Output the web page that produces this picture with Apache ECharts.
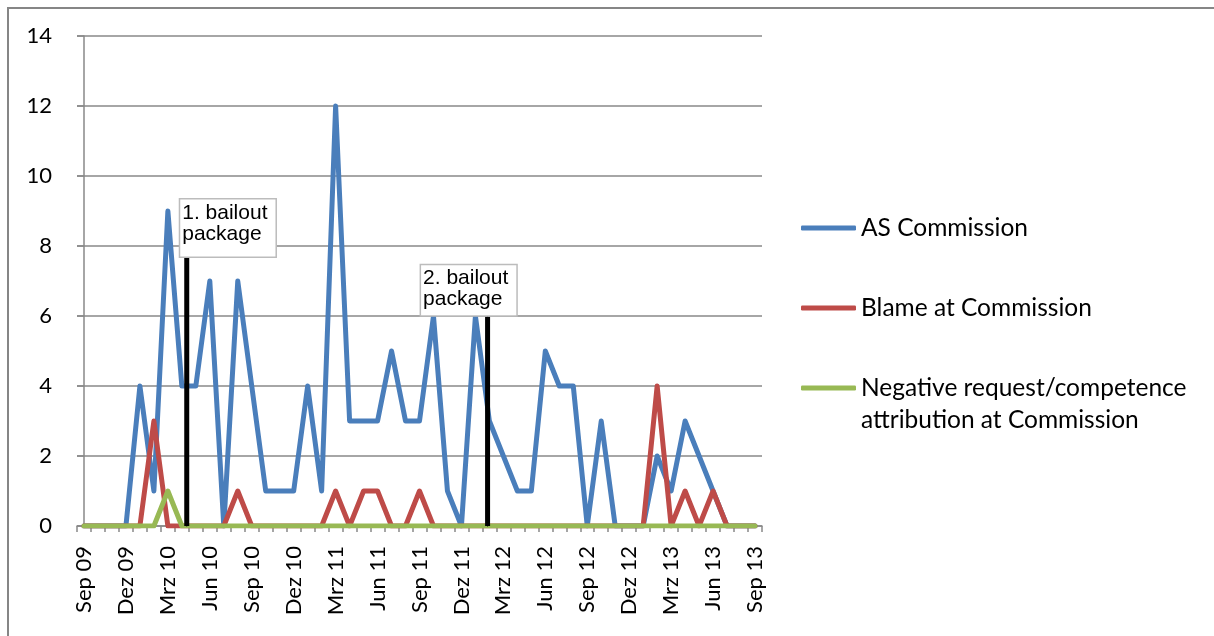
<!DOCTYPE html>
<html>
<head>
<meta charset="utf-8">
<script src="https://cdn.jsdelivr.net/npm/echarts@6/dist/echarts.min.js"></script>
<style>
  html, body { margin: 0; padding: 0; background: #fff; }
  #chart { width: 1214px; height: 636px; }
</style>
</head>
<body>
<div id="chart"></div>
<script>
// Monthly categories, September 2009 to September 2013
const months = [
  'Sep 09', 'Okt 09', 'Nov 09', 'Dez 09', 'Jan 10', 'Feb 10', 'Mrz 10', 'Apr 10', 'Mai 10', 'Jun 10',
  'Jul 10', 'Aug 10', 'Sep 10', 'Okt 10', 'Nov 10', 'Dez 10', 'Jan 11', 'Feb 11', 'Mrz 11', 'Apr 11',
  'Mai 11', 'Jun 11', 'Jul 11', 'Aug 11', 'Sep 11', 'Okt 11', 'Nov 11', 'Dez 11', 'Jan 12', 'Feb 12',
  'Mrz 12', 'Apr 12', 'Mai 12', 'Jun 12', 'Jul 12', 'Aug 12', 'Sep 12', 'Okt 12', 'Nov 12', 'Dez 12',
  'Jan 13', 'Feb 13', 'Mrz 13', 'Apr 13', 'Mai 13', 'Jun 13', 'Jul 13', 'Aug 13', 'Sep 13'
];

const asCommission = [
  0, 0, 0, 0, 4, 1, 9, 4, 4, 7,
  0, 7, 4, 1, 1, 1, 4, 1, 12, 3,
  3, 3, 5, 3, 3, 6, 1, 0, 6, 3,
  2, 1, 1, 5, 4, 4, 0, 3, 0, 0,
  0, 2, 1, 3, 2, 1, 0, 0, 0
];

const blameCommission = [
  0, 0, 0, 0, 0, 3, 0, 0, 0, 0,
  0, 1, 0, 0, 0, 0, 0, 0, 1, 0,
  1, 1, 0, 0, 1, 0, 0, 0, 0, 0,
  0, 0, 0, 0, 0, 0, 0, 0, 0, 0,
  0, 4, 0, 1, 0, 1, 0, 0, 0
];

const negativeAttribution = [
  0, 0, 0, 0, 0, 0, 1, 0, 0, 0,
  0, 0, 0, 0, 0, 0, 0, 0, 0, 0,
  0, 0, 0, 0, 0, 0, 0, 0, 0, 0,
  0, 0, 0, 0, 0, 0, 0, 0, 0, 0,
  0, 0, 0, 0, 0, 0, 0, 0, 0
];

const seriesNames = [
  'AS Commission',
  'Blame at Commission',
  'Negative request/competence attribution at Commission'
];

// Bailout events: position in months from Sep 09, and the height the marker line reaches
const bailoutLabels = ['1. bailout\npackage', '2. bailout\npackage'];
const bailoutMonth = [7.35, 28.87];
const bailoutTop = [7.66, 5.98];

// Callout box placement relative to the top of each marker line
const calloutLayout = [
  { position: [-6, -58], padding: [3, 8, 12, 2] },
  { position: [-66, -51], padding: [3, 8, 5, 2] }
];

const colors = ['#4a7ebb', '#be4b48', '#98b954'];
const gridColor = '#898989';
const uiFont = 'Lato';

const chart = echarts.init(document.getElementById('chart'), null, { renderer: 'canvas' });

const dataSeries = [asCommission, blameCommission, negativeAttribution].map((values, k) => ({
  name: seriesNames[k],
  type: 'line',
  data: values,
  symbol: 'none',
  z: 3,
  lineStyle: { color: colors[k], width: 5, join: 'round', cap: 'round' },
  itemStyle: { color: colors[k] }
}));

const bailoutSeries = bailoutLabels.map((label, k) => ({
  name: label.replace('\n', ' '),
  type: 'line',
  xAxisIndex: 1,
  z: 4,
  silent: true,
  symbol: 'circle',
  symbolSize: 1,
  showSymbol: true,
  lineStyle: { color: '#000', width: 5 },
  itemStyle: { color: '#000' },
  data: [
    [bailoutMonth[k], 0],
    {
      value: [bailoutMonth[k], bailoutTop[k]],
      label: {
        show: true,
        formatter: label,
        position: calloutLayout[k].position,
        padding: calloutLayout[k].padding,
        backgroundColor: '#fff',
        borderColor: '#bcbcbc',
        borderWidth: 1.5,
        fontFamily: 'Liberation Sans',
        fontSize: 21,
        lineHeight: 21,
        color: '#000',
        align: 'left',
        verticalAlign: 'top'
      }
    }
  ]
}));

const legendBase = {
  left: 801,
  orient: 'vertical',
  padding: 0,
  icon: 'roundRect',
  itemWidth: 55,
  itemHeight: 5,
  itemGap: 0,
  selectedMode: false,
  textStyle: { fontFamily: uiFont, fontSize: 24.5, lineHeight: 32, color: '#000' }
};

const option = {
  animation: false,
  backgroundColor: '#fff',
  grid: { left: 77, top: 36, right: 452, bottom: 110, containLabel: false },
  xAxis: [
    {
      type: 'category',
      data: months,
      boundaryGap: true,
      axisLine: { lineStyle: { color: gridColor, width: 1.5 } },
      axisTick: { show: true, interval: 0, length: 6, lineStyle: { color: gridColor, width: 1.5 } },
      axisLabel: {
        interval: 2,
        rotate: 90,
        margin: 20,
        fontFamily: uiFont,
        fontSize: 22,
        color: '#000'
      },
      splitLine: { show: false }
    },
    {
      type: 'value',
      show: false,
      min: -0.5,
      max: months.length - 0.5
    }
  ],
  yAxis: {
    type: 'value',
    min: 0,
    max: 14,
    interval: 2,
    axisLine: { show: true, lineStyle: { color: gridColor, width: 1.5 } },
    axisTick: { show: true, length: 7, lineStyle: { color: gridColor, width: 1.5 } },
    axisLabel: { margin: 25, fontFamily: uiFont, fontSize: 22, color: '#000' },
    splitLine: { show: true, lineStyle: { color: gridColor, width: 1.5 } }
  },
  legend: [
    Object.assign({}, legendBase, { data: [seriesNames[0]], top: 212 }),
    Object.assign({}, legendBase, { data: [seriesNames[1]], top: 292 }),
    Object.assign({}, legendBase, {
      data: [seriesNames[2]],
      top: 340,
      formatter: () => '\nNegative request/competence\nattribution at Commission'
    })
  ],
  graphic: [
    {
      type: 'rect',
      silent: true,
      shape: { x: 8, y: 8, width: 1300, height: 700 },
      style: { fill: 'none', stroke: '#868686', lineWidth: 2 }
    }
  ],
  series: dataSeries.concat(bailoutSeries)
};

chart.setOption(option);
</script>
</body>
</html>
